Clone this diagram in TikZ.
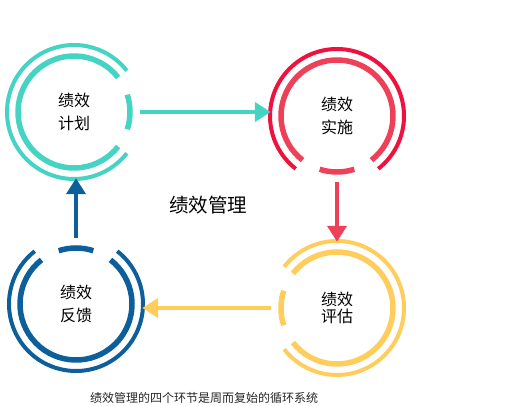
\documentclass[tikz,border=0pt]{standalone}
\usepackage{fontspec}
\usepackage{xcolor}
\usepackage{tikz}
\usetikzlibrary{arrows.meta}
\usetikzlibrary{calc}
\newfontfamily\cjk{Noto Sans CJK SC}

\begin{document}
\begin{tikzpicture}[x=1pt,y=1pt]
              \definecolor{plancol}{HTML}{45D3C3}
              \definecolor{implcol}{HTML}{F0123E}
              \definecolor{impllight}{HTML}{EE4058}
              \definecolor{evalcol}{HTML}{FFCD5C}
              \definecolor{feedcol}{HTML}{0C5F9A}
              \tikzstyle{ring node}=[circle,minimum size=132pt,inner sep=0pt,align=center,font=\cjk\fontsize{16}{23}\selectfont]
              \tikzstyle{outer ring}=[line width=4pt]
              \tikzstyle{inner ring}=[line width=5.5pt]
              \tikzstyle{flow}=[line width=4.5pt,-{Triangle[length=16pt,width=19pt]}]

              % CONSTANTS
              \def\rout{67pt}
              \def\rin{56pt}

              \useasboundingbox (0,0) rectangle (505,406);

              % Stages
              \node[ring node] (plan) at (74,294) {绩效\\计划};
              \node[ring node] (impl) at (337,290) {绩效\\实施};
              \node[ring node,font=\cjk\fontsize{16}{17}\selectfont] (eval) at (337,98) {绩效\\评估};
              \node[ring node] (feed) at (76,102) {绩效\\反馈};

              % Rings, open toward the next stage
              \foreach \n/\g/\co/\ci [evaluate=\g as \s using \g+38,
                                      evaluate=\g as \e using \g+322,
                                      evaluate=\g as \a using \g-18,
                                      evaluate=\g as \b using \g+18]
                in {plan/0/plancol/plancol, impl/-90/implcol/impllight,
                    eval/180/evalcol/evalcol, feed/90/feedcol/feedcol}{
                  \draw[outer ring,\co] (\n.center) ++(\s:\rout) arc[start angle=\s,end angle=\e,radius=\rout];
                  \draw[inner ring,\ci] (\n.center) ++(\s:\rin) arc[start angle=\s,end angle=\e,radius=\rin];
                  \draw[inner ring,\ci] (\n.center) ++(\a:\rin) arc[start angle=\a,end angle=\b,radius=\rin];
                }

              % Cycle
              \draw[flow,plancol] (plan.east) -- (plan.east -| impl.west);
              \draw[flow,impllight] (impl.south) -- (impl.south |- eval.north);
              \draw[flow,evalcol] (eval.west) -- (eval.west -| feed.east);
              \draw[flow,feedcol] (feed.north) -- (feed.north |- plan.south);

              \node[font=\cjk\fontsize{19.5}{22}\selectfont] (title) at (208,201) {绩效管理};
              \node[font=\cjk\fontsize{12}{14}\selectfont,text=black!85] (caption) at (204,8) {绩效管理的四个环节是周而复始的循环系统};

            \end{tikzpicture}
\end{document}
